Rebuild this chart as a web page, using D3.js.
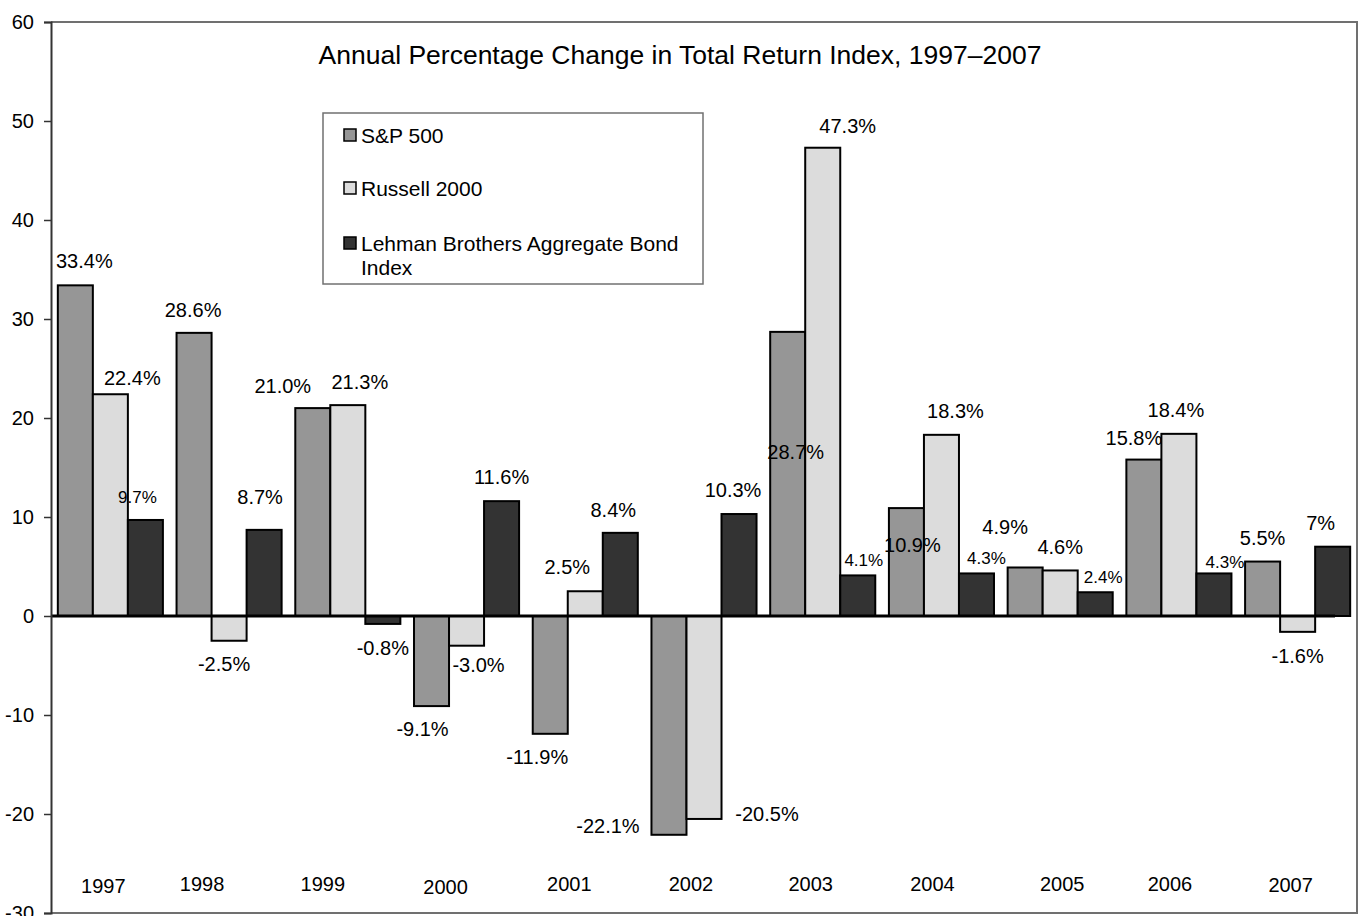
<!DOCTYPE html>
<html>
<head>
<meta charset="utf-8">
<script src="https://cdn.jsdelivr.net/npm/d3@7"></script>
<style>
    body { margin: 0; background: #fff; }
    svg text { font-family: "Liberation Sans", Arial, sans-serif; fill: #000; }
</style>
</head>
<body>
<div id="chart"></div>
<script>
// data
const years = ["1997", "1998", "1999", "2000", "2001", "2002", "2003", "2004", "2005", "2006", "2007"]
const seriesNames = ["S&P 500", "Russell 2000", "Lehman Brothers Aggregate Bond Index"]
const sp500 = [33.4, 28.6, 21.0, -9.1, -11.9, -22.1, 28.7, 10.9, 4.9, 15.8, 5.5]
const russell2000 = [22.4, -2.5, 21.3, -3.0, 2.5, -20.5, 47.3, 18.3, 4.6, 18.4, -1.6]
const lehmanBond = [9.7, 8.7, -0.8, 11.6, 8.4, 10.3, 4.1, 4.3, 2.4, 4.3, 7]
const yTicks = [-30, -20, -10, 0, 10, 20, 30, 40, 50, 60]
const titleText = "Annual Percentage Change in Total Return Index, 1997\u20132007"
// the one label printed without a decimal
const wholeLabels = [[], [], ["2007"]]

// layout (label nudges are hand placed text boxes in the original)
const colors = ["#969696", "#dcdcdc", "#333333"]
const labelNudge = [
    [[9, -1], [-1, 0], [-30, 1], [-9, 0], [-13, 0], [-61, -32], [8, 143], [6, 60], [-20, -17], [-10, 1], [0, -1]],
    [[22, 7], [-5, 0], [12, 0], [12, -4], [-18, -1], [63, -28], [25, 1], [14, -1], [0, 0], [-3, -1], [0, 1]],
    [[-8, 1], [-4, -10], [0, 1], [0, -1], [-7, 0], [-6, -1], [6, 8], [10, 8], [8, 8], [11, 12], [-12, -1]]
]
const smallLabel = [[], [], ["1997", "2003", "2004", "2005", "2006"]]
const yearNudge = [[-7, 2], [-27, 0], [-25, 0], [-21, 3], [-16, 0], [-13, 0], [-12, 0], [-9, 0], [2, 0], [-9, 0], [-7, 1]]

buildChart()

function buildChart() {
    let width = 1359, height = 916
    let plot = { left: 51, right: 1357, top: 22, bottom: 913 }

    let svg = d3.select("#chart")
                .append("svg")
                    .attr("width", width)
                    .attr("height", height)

    let series = [sp500, russell2000, lehmanBond]

    let x0 = d3.scaleBand()
                .domain(years)
                .range([plot.left, plot.right])
                .paddingInner(0.115)
                .paddingOuter(0.0575)
    let x1 = d3.scaleBand()
                .domain(d3.range(series.length))
                .range([0, x0.bandwidth()])
    let y = d3.scaleLinear()
                .domain([-30, 60])
                .range([plot.bottom, plot.top])

    // plot frame (top, right, bottom)
    svg.append("path")
        .attr("d", `M${plot.left},${plot.top}H${plot.right}V${plot.bottom}H${plot.left}`)
        .attr("fill", "none")
        .attr("stroke", "#707070")
        .attr("stroke-width", 2)

    // title
    svg.append("text")
        .attr("x", 680)
        .attr("y", 55)
        .attr("text-anchor", "middle")
        .attr("dominant-baseline", "central")
        .style("font-size", "26.5px")
        .text(titleText)

    // bars
    let bars = []
    series.forEach((values, s) => {
        values.forEach((v, i) => bars.push({ s: s, i: i, year: years[i], value: v }))
    })

    svg.append("g")
        .selectAll("rect")
        .data(bars)
        .enter().append("rect")
            .attr("x", d => x0(d.year) + x1(d.s))
            .attr("y", d => y(Math.max(0, d.value)))
            .attr("width", x1.bandwidth())
            .attr("height", d => Math.abs(y(d.value) - y(0)))
            .attr("fill", d => colors[d.s])
            .attr("stroke", "#000")
            .attr("stroke-width", 2)

    // zero line
    svg.append("line")
        .attr("x1", plot.left)
        .attr("x2", 1335)
        .attr("y1", y(0))
        .attr("y2", y(0))
        .attr("stroke", "#000")
        .attr("stroke-width", 3)

    // y axis
    let yAxis = d3.axisLeft(y)
                    .tickValues(yTicks)
                    .tickSize(7)
                    .tickPadding(10)
                    .tickFormat(d => String(d))
    let ga = svg.append("g")
                .attr("transform", `translate(${plot.left},0)`)
                .call(yAxis)
    ga.select(".domain").attr("stroke", "#333").attr("stroke-width", 2)
    ga.selectAll(".tick line").attr("stroke", "#333").attr("stroke-width", 1.5)
    ga.selectAll(".tick text")
        .style("font-size", "20px")
        .style("font-family", "'Liberation Sans', Arial, sans-serif")
        .attr("fill", "#000")

    // value labels
    svg.append("g")
        .selectAll("text")
        .data(bars)
        .enter().append("text")
            .attr("x", d => x0(d.year) + x1(d.s) + x1.bandwidth() / 2 + labelNudge[d.s][d.i][0])
            .attr("y", d => (d.value >= 0 ? y(d.value) - 23 : y(d.value) + 23) + labelNudge[d.s][d.i][1])
            .attr("text-anchor", "middle")
            .attr("dominant-baseline", "central")
            .style("font-size", d => smallLabel[d.s].includes(d.year) ? "17px" : "20px")
            .text(d => d.value.toFixed(wholeLabels[d.s].includes(d.year) ? 0 : 1) + "%")

    // year labels
    svg.append("g")
        .selectAll("text")
        .data(years)
        .enter().append("text")
            .attr("x", (d, i) => x0(d) + x0.bandwidth() / 2 + yearNudge[i][0])
            .attr("y", (d, i) => 884 + yearNudge[i][1])
            .attr("text-anchor", "middle")
            .attr("dominant-baseline", "central")
            .style("font-size", "20px")
            .text(d => d)

    // legend
    let legend = svg.append("g").attr("transform", "translate(323,113)")
    legend.append("rect")
        .attr("width", 380)
        .attr("height", 171)
        .attr("fill", "#fff")
        .attr("stroke", "#707070")
        .attr("stroke-width", 1.5)

    let rows = [
        { s: 0, lines: ["S&P 500"], cy: 22 },
        { s: 1, lines: ["Russell 2000"], cy: 75 },
        { s: 2, lines: ["Lehman Brothers Aggregate Bond", "Index"], cy: 130 }
    ]
    let item = legend.selectAll(".item")
                    .data(rows)
                    .enter().append("g")
                        .attr("class", "item")
    item.append("rect")
        .attr("x", 21)
        .attr("y", d => d.cy - 6)
        .attr("width", 12)
        .attr("height", 12)
        .attr("fill", d => colors[d.s])
        .attr("stroke", "#000")
        .attr("stroke-width", 1.5)
    item.append("text")
        .attr("x", 38)
        .attr("y", d => d.cy)
        .attr("dominant-baseline", "central")
        .style("font-size", "21px")
        .selectAll("tspan")
        .data(d => d.lines)
        .enter().append("tspan")
            .attr("x", 38)
            .attr("dy", (d, i) => i == 0 ? 0 : 24)
            .text(d => d)
}
</script>
</body>
</html>
